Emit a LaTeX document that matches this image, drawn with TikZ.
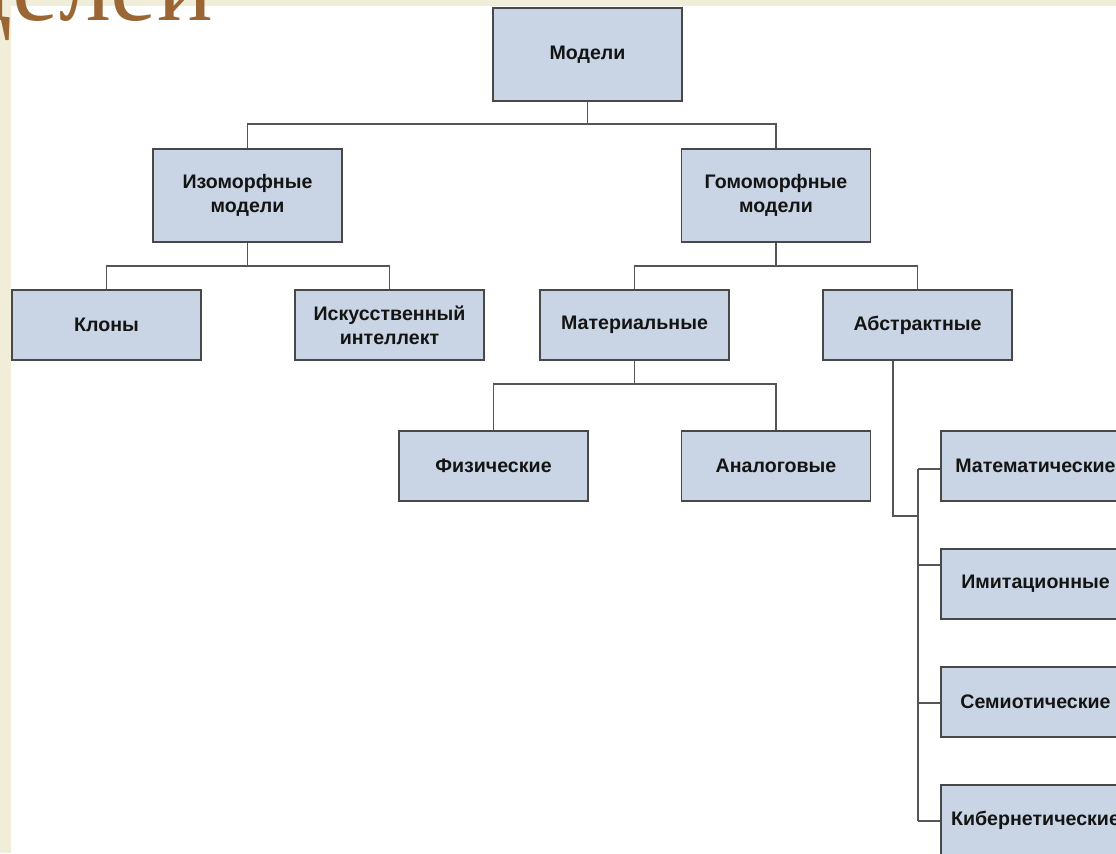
\documentclass[tikz,border=0pt]{standalone}
\usepackage{fontspec}
\setmainfont{Liberation Sans}
\newfontfamily\titleserif{Liberation Serif}
\usetikzlibrary{calc}
\definecolor{slidebg}{RGB}{240,238,216}
\definecolor{boxfill}{RGB}{201,213,228}
\definecolor{boxedge}{RGB}{72,72,72}
\definecolor{linkgray}{RGB}{85,85,85}
\definecolor{titlebrown}{RGB}{155,102,51}

\begin{document}
\begin{tikzpicture}[x=0.75pt,y=-0.75pt,
  box/.style={draw=boxedge,line width=1.3pt,fill=boxfill,minimum width=141.75pt,
    inner sep=0pt,align=center,font=\bfseries\fontsize{14.7}{18.2}\selectfont,text=black!92},
  tall/.style={box,minimum height=69.75pt},
  flat/.style={box,minimum height=52.5pt},
  link/.style={draw=linkgray,line width=1.1pt}]
\useasboundingbox (0,0) rectangle (1116,853);
\clip (0,0) rectangle (1116,853);

% slide background and white drawing area
\fill[slidebg] (0,0) rectangle (1116,853);
\fill[white] (11,6) rectangle (1116,853);

% slide title, partly outside the visible area
\node[anchor=base east,inner sep=0pt,text=titlebrown,
  font=\titleserif\fontsize{78}{78}\selectfont] (title) at (213,21) {делей};

% level 0
\node[tall] (m0) at (587.5,54.5) {Модели};
% level 1
\node[tall] (iso) at (247.5,195.5) {Изоморфные\\модели};
\node[tall] (hom) at (776,195.5) {Гомоморфные\\модели};
% level 2
\node[flat] (klon) at (106.5,325) {Клоны};
\node[flat] (ai) at (389.5,325) {Искусственный\\интеллект};
\node[flat] (mat) at (634.5,325) {Материальные};
\node[flat] (abs) at (917.5,325) {Абстрактные};
% level 3
\node[flat] (fiz) at (493.5,466) {Физические};
\node[flat] (ana) at (776,466) {Аналоговые};
\node[flat] (math) at (1035.5,466) {Математические};
\node[flat] (imit) at (1035.5,584) {Имитационные};
\node[flat] (semi) at (1035.5,702) {Семиотические};
\node[flat] (kib) at (1035.5,820) {Кибернетические};

% bus points
\coordinate (b0) at (587.5,124);
\coordinate (b1) at (247.5,266);
\coordinate (b2) at (776,266);
\coordinate (b3) at (634.5,384);
\coordinate (a1) at ($(abs.south)+(-24.5,0)$);
\coordinate (a2) at (918,516);
\coordinate (t1) at (918,469);
\coordinate (t2) at (918,565);
\coordinate (t3) at (918,703);
\coordinate (t4) at (918,821);

% tree connectors
\draw[link] (m0.south) -- (b0);
\draw[link] (iso.north) |- (b0) -| (hom.north);
\draw[link] (iso.south) -- (b1);
\draw[link] (klon.north) |- (b1) -| (ai.north);
\draw[link] (hom.south) -- (b2);
\draw[link] (mat.north) |- (b2) -| (abs.north);
\draw[link] (mat.south) -- (b3);
\draw[link] (fiz.north) |- (b3) -| (ana.north);

% abstract models branch
\draw[link] (a1) |- (a2);
\draw[link] (t1) -- (t4);
\draw[link] (t1) -- (t1 -| math.west);
\draw[link] (t2) -- (t2 -| imit.west);
\draw[link] (t3) -- (t3 -| semi.west);
\draw[link] (t4) -- (t4 -| kib.west);
\end{tikzpicture}
\end{document}
